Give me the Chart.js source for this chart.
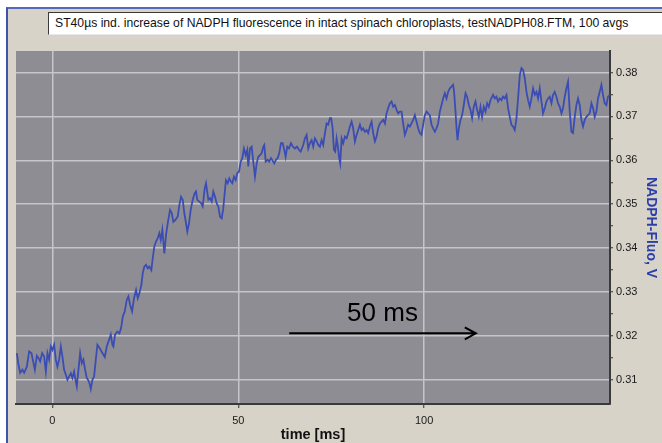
<!DOCTYPE html>
<html>
<head>
<meta charset="utf-8">
<script src="https://cdn.jsdelivr.net/npm/chart.js@4.4.1/dist/chart.umd.min.js"></script>
<style>
  html, body { margin: 0; padding: 0; background: #ffffff; overflow: hidden; }
  #frame {
    position: absolute; left: 6px; top: 7px; width: 670px; height: 450px;
    background: #d7d3c9;
    border-left: 2px solid #3f51a8; border-top: 2px solid #5668b8;
  }
  #titlebox {
    position: absolute; left: 48px; top: 12px; width: 640px; height: 21px;
    background: #ffffff;
    border-style: solid; border-width: 1px;
    border-color: #3a3a3a #e8e8e8 #e8e8e8 #3a3a3a;
    font: 12.2px "Liberation Sans", Arial, sans-serif; color: #111;
    line-height: 21px; padding-left: 6px; white-space: nowrap;
  }
  #wrap { position: absolute; left: 0; top: 0; width: 662px; height: 443px; }
</style>
</head>
<body>
<div id="frame"></div>
<div id="titlebox">ST40µs ind. increase of NADPH fluorescence in intact spinach chloroplasts, testNADPH08.FTM, 100 avgs</div>
<div id="wrap"><canvas id="myChart"></canvas></div>
<script>
// time axis (ms)
var timeMs = [
  -9.57, -9.22, -8.68, -8.06, -7.61, -6.88, -6.26, -5.65, -5.19, -4.73,
  -4.19, -3.76, -3.31, -2.77, -2.23, -1.77, -1.34, -0.89, -0.43, 0,
  0.46, 0.91, 1.34, 1.80, 2.26, 2.69, 3.15, 3.60, 4.03, 4.49,
  4.95, 5.38, 5.83, 6.29, 6.56, 7.18, 7.45, 7.90, 8.33, 8.79,
  9.25, 9.60, 9.95, 10.32, 10.75, 11.21, 11.67, 12.10, 12.74, 13.44,
  14.09, 14.62, 15.24, 15.70, 16.13,
  16.40, 16.85, 17.47, 18.01, 18.47, 18.92, 19.46, 20.00, 20.43, 20.89,
  21.42, 21.96, 22.50, 22.96, 23.39, 23.92, 24.30, 24.73, 25.19, 25.65,
  26.08, 26.61, 26.99, 27.42, 27.88, 28.33, 28.76, 29.14, 29.57, 30.11,
  30.56, 31.02, 31.64, 32.10, 32.53, 33.06, 33.71, 34.14, 34.60, 35.05,
  35.48, 35.94, 36.29, 36.75, 37.20, 37.74, 38.28, 38.63, 38.98, 39.52,
  40.05, 40.43, 40.97, 41.32,
  41.94, 42.39, 42.85, 43.28, 43.74, 44.19, 44.62, 45.08, 45.54, 45.97,
  46.42, 46.69, 47.15, 47.58, 48.04, 48.39, 48.84, 49.30, 49.73, 50.19,
  50.65, 51.08, 51.53, 51.99, 52.42, 52.69, 53.15, 53.60, 54.03, 54.49,
  54.95, 55.38, 55.83, 56.29, 56.72, 56.99, 57.37, 57.90, 58.33, 58.79,
  59.25, 59.68, 60.13, 60.59, 61.02, 61.48, 61.94, 62.37, 62.74, 63.17,
  63.63, 64.17, 64.70, 65.24, 65.78, 66.32, 66.77,
  67.47, 67.93, 68.39, 68.82, 69.27, 69.73, 70.16, 70.62, 71.08, 71.51,
  71.96, 72.42, 72.85, 73.31, 73.76, 74.19, 74.65, 75.00, 75.38, 75.73,
  76.08, 76.45, 76.80, 77.15, 77.42, 77.80, 78.23, 78.68, 79.14, 79.57,
  80.03, 80.48, 80.91, 81.37, 81.83, 82.26, 82.72, 83.17, 83.60, 84.06,
  84.52, 84.95, 85.40, 85.86, 86.29, 86.75, 87.20, 87.63, 88.09, 88.55,
  88.98, 89.44, 89.89, 90.32, 90.78, 91.24, 91.67, 92.12, 92.58, 93.01, 93.47,
  93.92, 94.35, 94.81, 95.27, 95.70, 96.16, 96.61, 97.04, 97.50, 97.96,
  98.39, 98.84, 99.30, 99.73, 100.19, 100.65, 101.08, 101.53, 101.99, 102.42,
  102.88, 103.33, 103.76, 104.22, 104.68, 105.11, 105.56, 106.02, 106.45, 106.91,
  107.37, 107.80, 108.06, 108.44, 108.71, 108.98, 109.33, 109.78, 110.22, 110.67,
  111.13, 111.56, 112.02, 112.47, 112.90, 113.36, 113.82, 114.25, 114.70, 115.16,
  115.59, 116.05, 116.51, 116.94, 117.39, 117.85,
  118.55, 119.01, 119.46, 119.89, 120.35, 120.81, 121.24, 121.69, 122.15, 122.58,
  123.04, 123.49, 123.92, 124.38, 124.84, 125.27, 125.73, 126.18, 126.61, 127.07,
  127.53, 127.96, 128.41, 128.87, 129.30, 129.76, 130.22, 130.65, 131.10, 131.56,
  131.99, 132.45, 132.90, 133.33, 133.79, 134.25, 134.68, 135.13, 135.59, 136.02,
  136.48, 136.94, 137.37, 137.82, 138.28, 138.71, 139.17, 139.62, 140.05, 140.51,
  140.97, 141.40, 141.85, 142.31, 142.74, 143.20, 143.66, 144.09, 144.54, 145.00,
  145.43, 145.89, 146.34, 146.77, 147.23, 147.69, 148.12, 148.58, 149.03, 149.46, 149.92
]

// NADPH fluorescence signal (V)
var nadphV = [
  0.3161, 0.3139, 0.3116, 0.3123, 0.3116, 0.3130, 0.3165, 0.3161, 0.3142, 0.3123,
  0.3155, 0.3150, 0.3142, 0.3161, 0.3153, 0.3119, 0.3161, 0.3146, 0.3176, 0.3168,
  0.3180, 0.3146, 0.3130, 0.3146, 0.3176, 0.3153, 0.3123, 0.3112, 0.3100, 0.3108,
  0.3115, 0.3104, 0.3119, 0.3096, 0.3085, 0.3138, 0.3161, 0.3138, 0.3146, 0.3123,
  0.3104, 0.3100, 0.3093, 0.3079, 0.3100, 0.3108, 0.3146, 0.3180, 0.3172, 0.3161,
  0.3152, 0.3176, 0.3191, 0.3203, 0.3180,
  0.3176, 0.3203, 0.3210, 0.3206, 0.3218, 0.3244, 0.3256, 0.3282, 0.3290, 0.3271,
  0.3256, 0.3286, 0.3305, 0.3286, 0.3297, 0.3316, 0.3343, 0.3358, 0.3362, 0.3354,
  0.3358, 0.3350, 0.3377, 0.3404, 0.3415, 0.3423, 0.3434, 0.3419, 0.3442, 0.3388,
  0.3430, 0.3457, 0.3487, 0.3480, 0.3460, 0.3464, 0.3472, 0.3498, 0.3517, 0.3510,
  0.3480, 0.3457, 0.3438, 0.3457, 0.3487, 0.3510, 0.3525, 0.3529, 0.3510, 0.3506,
  0.3502, 0.3495, 0.3536, 0.3548,
  0.3510, 0.3514, 0.3506, 0.3529, 0.3517, 0.3502, 0.3495, 0.3472, 0.3468, 0.3491,
  0.3533, 0.3555, 0.3548, 0.3559, 0.3551, 0.3548, 0.3563, 0.3555, 0.3571, 0.3574,
  0.3597, 0.3605, 0.3627, 0.3612, 0.3624, 0.3586, 0.3627, 0.3631, 0.3597, 0.3563,
  0.3593, 0.3608, 0.3612, 0.3616, 0.3631, 0.3635, 0.3597, 0.3601, 0.3597, 0.3605,
  0.3599, 0.3593, 0.3601, 0.3605, 0.3616, 0.3639, 0.3639, 0.3624, 0.3608, 0.3631,
  0.3627, 0.3639, 0.3631, 0.3627, 0.3631, 0.3624, 0.3620,
  0.3635, 0.3650, 0.3658, 0.3627, 0.3639, 0.3646, 0.3631, 0.3650, 0.3643, 0.3635,
  0.3631, 0.3646, 0.3635, 0.3662, 0.3684, 0.3681, 0.3696, 0.3696, 0.3673, 0.3624,
  0.3620, 0.3650, 0.3631, 0.3605, 0.3593, 0.3650, 0.3639, 0.3654, 0.3650, 0.3662,
  0.3677, 0.3688, 0.3673, 0.3643, 0.3658, 0.3669, 0.3681, 0.3669, 0.3673, 0.3665,
  0.3669, 0.3662, 0.3677, 0.3688, 0.3662, 0.3643, 0.3654, 0.3673, 0.3684, 0.3688,
  0.3692, 0.3684, 0.3707, 0.3719, 0.3730, 0.3734, 0.3722, 0.3726, 0.3715, 0.3707, 0.3711,
  0.3711, 0.3684, 0.3658, 0.3669, 0.3681, 0.3677, 0.3684, 0.3692, 0.3703, 0.3688,
  0.3673, 0.3662, 0.3658, 0.3681, 0.3703, 0.3711, 0.3707, 0.3703, 0.3681, 0.3673,
  0.3665, 0.3673, 0.3684, 0.3711, 0.3726, 0.3741, 0.3753, 0.3741, 0.3756, 0.3764,
  0.3768, 0.3772, 0.3756, 0.3711, 0.3673, 0.3646, 0.3673, 0.3692, 0.3703, 0.3726,
  0.3753, 0.3745, 0.3726, 0.3715, 0.3696, 0.3722, 0.3734, 0.3715, 0.3699, 0.3722,
  0.3699, 0.3722, 0.3711, 0.3730, 0.3722, 0.3737,
  0.3749, 0.3741, 0.3745, 0.3734, 0.3741, 0.3737, 0.3745, 0.3741, 0.3749, 0.3719,
  0.3699, 0.3681, 0.3677, 0.3669, 0.3696, 0.3741, 0.3794, 0.3810, 0.3806, 0.3787,
  0.3756, 0.3737, 0.3722, 0.3741, 0.3764, 0.3749, 0.3756, 0.3741, 0.3764, 0.3734,
  0.3707, 0.3719, 0.3734, 0.3741, 0.3745, 0.3730, 0.3749, 0.3756, 0.3745, 0.3730,
  0.3722, 0.3707, 0.3719, 0.3745, 0.3764, 0.3779, 0.3711, 0.3665, 0.3662, 0.3699,
  0.3726, 0.3741, 0.3726, 0.3692, 0.3677, 0.3692, 0.3699, 0.3703, 0.3707, 0.3730,
  0.3719, 0.3699, 0.3711, 0.3741, 0.3756, 0.3772, 0.3749, 0.3730, 0.3726, 0.3745, 0.3749
]

var xTicks = [0, 50, 100]
var yMajorTicks = [0.31, 0.32, 0.33, 0.34, 0.35, 0.36, 0.37, 0.38]
var yMinorTicks = [0.315, 0.325, 0.335, 0.345, 0.355, 0.365, 0.375]

// the "50 ms" scale arrow drawn on the trace
var arrowFrom = 63.7
var arrowTo = 113.9
var arrowLevel = 0.3206
var arrowTextLevel = 0.3250
var arrowText = '50 ms'

function isMajor(v) {
    return yMajorTicks.some(function (m) { return Math.abs(m - v) < 1e-6 })
}

var plotBg = {
    id: 'plotBg',
    beforeDraw: function (chart) {
        var a = chart.chartArea
        var c = chart.ctx
        c.save()
        c.fillStyle = '#8e8d93'
        c.fillRect(a.left, a.top, a.right - a.left, a.bottom - a.top)
        c.restore()
    }
}

var scaleArrow = {
    id: 'scaleArrow',
    afterDatasetsDraw: function (chart) {
        var c = chart.ctx
        var x = chart.scales.x, y = chart.scales.y
        var x0 = x.getPixelForValue(arrowFrom)
        var x1 = x.getPixelForValue(arrowTo)
        var yy = y.getPixelForValue(arrowLevel)
        c.save()
        c.strokeStyle = '#000'
        c.lineWidth = 2
        c.beginPath()
        c.moveTo(x0, yy)
        c.lineTo(x1, yy)
        c.moveTo(x1 - 11, yy - 6)
        c.lineTo(x1, yy)
        c.lineTo(x1 - 11, yy + 6)
        c.stroke()
        c.fillStyle = '#000'
        c.font = '26px "Liberation Sans", Arial, sans-serif'
        c.textAlign = 'center'
        c.textBaseline = 'middle'
        c.fillText(arrowText, (x0 + x1) / 2, y.getPixelForValue(arrowTextLevel))
        c.restore()
    }
}

function init_chart() {
    const ctx = document.getElementById('myChart')
    var points = timeMs.map(function (t, i) { return { x: t, y: nadphV[i] } })

    new Chart(ctx, {
        type: 'line',
        data: {
            datasets: [{
                data: points,
                borderColor: '#3b4db4',
                borderWidth: 1.8,
                pointRadius: 0,
                tension: 0,
                fill: false
            }]
        },
        plugins: [plotBg, scaleArrow],
        options: {
            responsive: true,
            maintainAspectRatio: false,
            animation: false,
            events: [],
            layout: { padding: { left: 16, top: 51, right: 0, bottom: 0 } },
            plugins: { legend: { display: false }, tooltip: { enabled: false } },
            scales: {
                x: {
                    type: 'linear',
                    min: -9.8,
                    max: 150,
                    afterBuildTicks: function (s) { s.ticks = xTicks.map(function (v) { return { value: v } }) },
                    afterFit: function (s) { s.height = 39 },
                    grid: { color: '#c6c6ca', lineWidth: 1.5, tickLength: 4, tickColor: '#333', tickWidth: 1 },
                    border: { display: true, color: '#3a3a3a', width: 2 },
                    ticks: {
                        padding: 6,
                        color: '#1a1a1a',
                        font: { family: '"Liberation Sans", Arial, sans-serif', size: 11 },
                        maxRotation: 0
                    },
                    title: {
                        display: true,
                        text: 'time [ms]',
                        color: '#111',
                        font: { family: '"Liberation Sans", Arial, sans-serif', size: 14.5, weight: 'bold' },
                        padding: { top: 0, bottom: -1 }
                    }
                },
                y: {
                    type: 'linear',
                    position: 'right',
                    min: 0.3045,
                    max: 0.3849,
                    afterBuildTicks: function (s) {
                        s.ticks = yMajorTicks.concat(yMinorTicks)
                            .sort(function (a, b) { return a - b })
                            .map(function (v) { return { value: v } })
                    },
                    afterFit: function (s) { s.width = 52 },
                    grid: {
                        color: function (c) { return c.tick && isMajor(c.tick.value) ? '#c6c6ca' : 'rgba(0,0,0,0)' },
                        lineWidth: 1.5,
                        tickLength: 3,
                        tickColor: '#333',
                        tickWidth: 1
                    },
                    border: { display: true, color: '#3a3a3a', width: 2 },
                    ticks: {
                        padding: 3,
                        color: '#1a1a1a',
                        font: { family: '"Liberation Sans", Arial, sans-serif', size: 11 },
                        callback: function (v) { return isMajor(v) ? v.toFixed(2) : '' }
                    },
                    title: {
                        display: true,
                        text: 'NADPH-Fluo, V',
                        color: '#2c3fa8',
                        font: { family: '"Liberation Sans", Arial, sans-serif', size: 14, weight: 'bold' },
                        padding: { top: 3, bottom: 0 }
                    }
                }
            }
        }
    })
}
init_chart()
</script>
</body>
</html>
